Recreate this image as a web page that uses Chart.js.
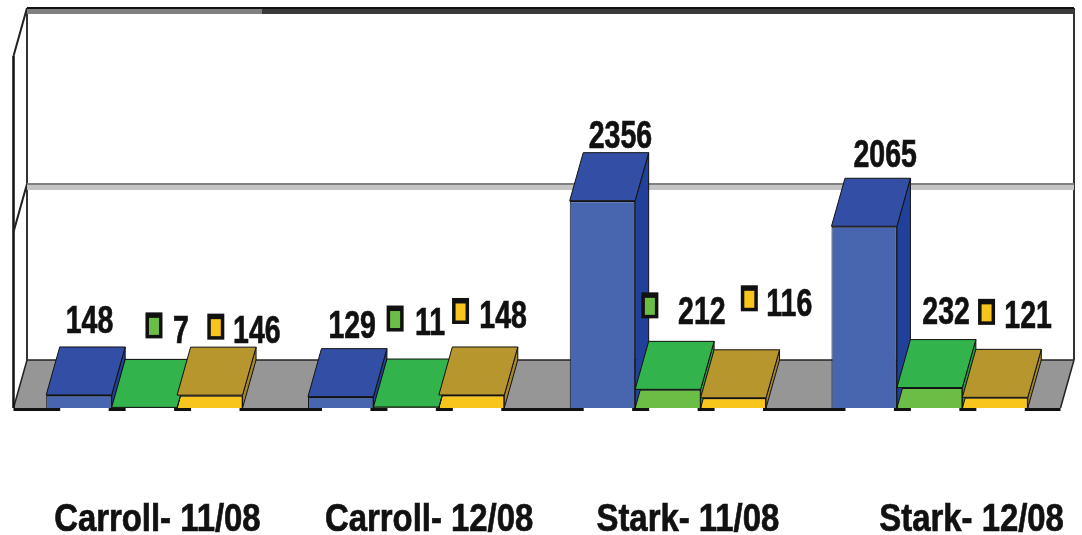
<!DOCTYPE html>
<html>
<head>
<meta charset="utf-8">
<title>Carroll and Stark</title>
<style>
  html, body { margin: 0; padding: 0; background: #fff; overflow: hidden; }
  canvas { display: block; filter: blur(0.6px); }
</style>
<script src="https://cdn.jsdelivr.net/npm/chart.js@4/dist/chart.umd.min.js"></script>
</head>
<body>
<canvas id="chart" width="1082" height="535"></canvas>
<script>
// ---------------------------------------------------------------------------
// Data
// ---------------------------------------------------------------------------

var categories = ['Carroll- 11/08', 'Carroll- 12/08', 'Stark- 11/08', 'Stark- 12/08'];
var blueValues = [148, 129, 2356, 2065];
var greenValues = [7, 11, 212, 232];
var goldValues = [146, 148, 116, 121];
var axisTicks = [0, 2000, 4000];

// ---------------------------------------------------------------------------
// Look of the fake 3D box
// ---------------------------------------------------------------------------

var DEPTH_X = 13.5;
var DEPTH_Y = -48;
var FONT = 'bold 38px "Liberation Sans", Arial, sans-serif';
var VALUE_SQUEEZE = 0.75;
var CATEGORY_SQUEEZE = 0.865;

var barStyles = [
  { front: '#4866b0', top: '#324fa5', side: '#21409a' },
  { front: '#6bbe45', top: '#32b34b', side: '#259a45' },
  { front: '#f8c51c', top: '#b8962e', side: '#a5852a' },
];

// Label offsets from the top centre of each bar: [text dx, baseline dy, key dx, key dy].
// Two numbers only means the reference shows no legend key beside that label.
var blueLabelSpots = [[10.6, -62], [11.5, -59], [18, -53], [21, -59]];
var greenLabelSpots = [[36.6, -64, 9.6, -82], [24, -72, -11, -88.5], [34, -65, -18, -84], [16.5, -64]];
var goldLabelSpots = [[47, -52, 6, -68.5], [31.5, -67, -11, -84], [56, -82, 16, -99.5], [33, -69, -8.5, -85.5]];
var categoryLabelShift = [13, 23, 20, 42];

function poly(ctx, pts, fill, stroke, lw) {
  ctx.beginPath();
  pts.forEach(function (p, i) {
    if (i === 0) ctx.moveTo(p[0], p[1]);
    else ctx.lineTo(p[0], p[1]);
  });
  ctx.closePath();
  if (fill) {
    ctx.fillStyle = fill;
    ctx.fill();
  }
  if (stroke) {
    ctx.strokeStyle = stroke;
    ctx.lineWidth = lw || 1;
    ctx.stroke();
  }
}

function line(ctx, x1, y1, x2, y2, color, lw) {
  ctx.beginPath();
  ctx.moveTo(x1, y1);
  ctx.lineTo(x2, y2);
  ctx.strokeStyle = color;
  ctx.lineWidth = lw;
  ctx.stroke();
}

function squeezedText(ctx, text, cx, baseline, squeeze) {
  ctx.save();
  ctx.font = FONT;
  ctx.fillStyle = '#111';
  ctx.strokeStyle = '#111';
  ctx.lineWidth = 0.7;
  ctx.textAlign = 'center';
  ctx.textBaseline = 'alphabetic';
  ctx.translate(cx, baseline);
  ctx.scale(squeeze, 1);
  ctx.fillText(text, 0, 0);
  ctx.strokeText(text, 0, 0);
  ctx.restore();
}

// ---------------------------------------------------------------------------
// Walls and floor, drawn behind the bars
// ---------------------------------------------------------------------------

var boxPlugin = {
  id: 'box',
  beforeDatasetsDraw: function (chart) {
    var ctx = chart.ctx;
    var a = chart.chartArea;
    var y = chart.scales.y;
    var bottom = y.getPixelForValue(0);
    var backL = a.left + DEPTH_X;
    var backR = a.right + DEPTH_X;

    // Floor
    poly(ctx, [[a.left, bottom], [a.right, bottom], [backR, bottom + DEPTH_Y], [backL, bottom + DEPTH_Y]], '#969696');
    line(ctx, backL, bottom + DEPTH_Y, backR, bottom + DEPTH_Y, '#222', 1.5);
    line(ctx, a.left, bottom, backL, bottom + DEPTH_Y, '#222', 1.5);
    line(ctx, a.right, bottom, backR, bottom + DEPTH_Y, '#222', 1.5);

    // Walls and gridlines
    var topY = y.getPixelForValue(axisTicks[axisTicks.length - 1]);
    line(ctx, a.left, bottom, a.left, topY, '#111', 2.5);
    line(ctx, backL, bottom + DEPTH_Y, backL, topY + DEPTH_Y, '#333', 2);
    line(ctx, backR, bottom + DEPTH_Y, backR, topY + DEPTH_Y, '#333', 2);

    axisTicks.slice(1).forEach(function (t) {
      var gy = y.getPixelForValue(t);
      var by = gy + DEPTH_Y;
      line(ctx, a.left, gy, backL, by, '#222', 2);
      var isTop = t === axisTicks[axisTicks.length - 1];
      if (isTop) {
        line(ctx, backL, by + 3.5, backL + 235, by + 3.5, '#808080', 5);
        line(ctx, backL + 235, by + 3.5, backR, by + 3.5, '#3a3a3a', 5);
        line(ctx, backL, by, backR, by, '#111', 2);
      } else {
        line(ctx, backL, by + 3.5, backR, by + 3.5, '#c4c4c4', 5);
        line(ctx, backL, by, backR, by, '#808080', 2);
      }
    });
  },

  // -------------------------------------------------------------------------
  // Bar tops and sides, labels, keys
  // -------------------------------------------------------------------------
  afterDatasetsDraw: function (chart) {
    var ctx = chart.ctx;
    var bottom = chart.scales.y.getPixelForValue(0);
    var spots = [blueLabelSpots, greenLabelSpots, goldLabelSpots];
    var values = [blueValues, greenValues, goldValues];

    // Broken black line under the floor front edge
    line(ctx, chart.chartArea.left, bottom + 1.5, chart.chartArea.right, bottom + 1.5, '#111', 3);

    categories.forEach(function (label, i) {
      barStyles.forEach(function (style, d) {
        var bar = chart.getDatasetMeta(d).data[i];
        var l = bar.x - bar.width / 2;
        var r = bar.x + bar.width / 2;
        var t = bar.y;

        // white gap in the line under most of the bar
        ctx.fillStyle = '#fff';
        ctx.fillRect(l + 14, bottom, bar.width - 17, 4);

        poly(ctx, [[r, t], [r + DEPTH_X, t + DEPTH_Y], [r + DEPTH_X, bottom + DEPTH_Y], [r, bottom]], style.side, '#111', 1);
        poly(ctx, [[l, t], [r, t], [r + DEPTH_X, t + DEPTH_Y], [l + DEPTH_X, t + DEPTH_Y]], style.top, '#111', 1);
      });
    });

    // Second pass so no later bar paints over a label
    categories.forEach(function (label, i) {
      barStyles.forEach(function (style, d) {
        var bar = chart.getDatasetMeta(d).data[i];
        var s = spots[d][i];
        squeezedText(ctx, String(values[d][i]), bar.x + s[0], bar.y + s[1], VALUE_SQUEEZE);
        if (s.length > 2) {
          var kx = bar.x + s[2];
          var ky = bar.y + s[3];
          ctx.fillStyle = '#111';
          ctx.fillRect(kx - 8.5, ky - 13, 17, 26);
          ctx.fillStyle = style.front;
          ctx.fillRect(kx - 5, ky - 7.5, 10, 17);
        }
      });

      var cx = chart.getDatasetMeta(1).data[i].x + categoryLabelShift[i];
      squeezedText(ctx, label, cx, 531, CATEGORY_SQUEEZE);
    });
  },
};

// ---------------------------------------------------------------------------
// Chart
// ---------------------------------------------------------------------------

function barSet(values, style) {
  return {
    data: values,
    backgroundColor: style.front,
    borderColor: '#111',
    borderWidth: { top: 1.5, left: 1, right: 1 },
    borderSkipped: 'bottom',
    barPercentage: 1,
    categoryPercentage: 0.75,
  };
}

new Chart(document.getElementById('chart'), {
  type: 'bar',
  data: {
    labels: categories,
    datasets: [
      barSet(blueValues, barStyles[0]),
      barSet(greenValues, barStyles[1]),
      barSet(goldValues, barStyles[2]),
    ],
  },
  options: {
    responsive: false,
    animation: false,
    layout: { padding: { left: 13.5, right: 21.5, top: 56, bottom: 127 } },
    plugins: { legend: { display: false }, tooltip: { enabled: false } },
    scales: {
      x: { display: false },
      y: { display: false, min: 0, max: 4000 },
    },
  },
  plugins: [boxPlugin],
});
</script>
</body>
</html>
